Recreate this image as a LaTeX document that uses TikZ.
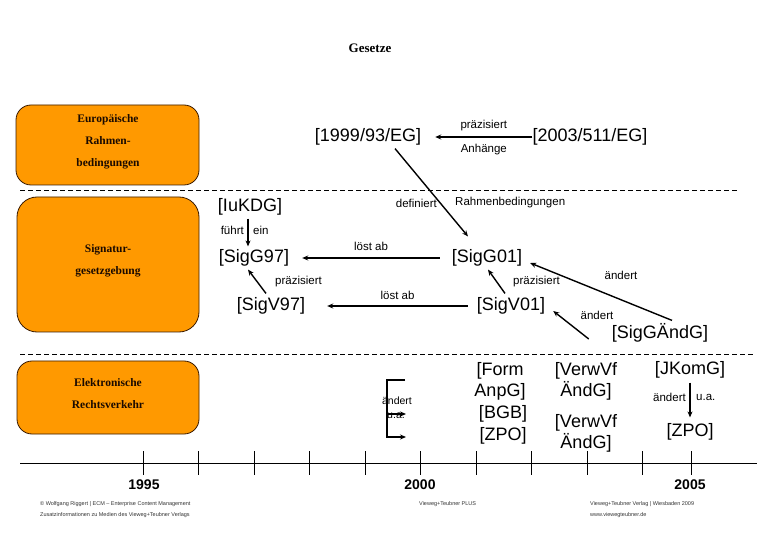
\documentclass[tikz,border=0pt]{standalone}
\usepackage{fontspec}
\setmainfont{Liberation Sans}
\newfontfamily\boxserif{Liberation Serif}
\usetikzlibrary{arrows.meta,calc}
\definecolor{boxorange}{HTML}{FF9900}
\definecolor{boxline}{HTML}{3A1A00}
\definecolor{boxtxt}{HTML}{1A0A00}
\definecolor{foottxt}{HTML}{333333}
\begin{document}
\begin{tikzpicture}[x=1pt,y=-1pt,
  big/.style={font=\fontsize{18}{21}\selectfont, inner sep=0pt, align=center},
  small/.style={font=\fontsize{11.5}{13}\selectfont, inner sep=0pt},
  tiny/.style={font=\fontsize{10.5}{12}\selectfont, inner sep=0pt},
  orangebox/.style={draw=boxline, fill=boxorange, rounded corners=15pt, line width=0.8pt, inner sep=0pt},
  boxtext/.style={font=\boxserif\bfseries\fontsize{11.5}{22}\selectfont, align=center, text=boxtxt, inner sep=0pt},
  arr/.style={-{Stealth[length=6pt,width=5pt]}, line width=1.4pt},
  sepline/.style={dash pattern=on 5pt off 3pt, line width=0.8pt},
  year/.style={font=\bfseries\fontsize{14}{16}\selectfont, inner sep=0pt},
  foot/.style={font=\fontsize{5.5}{7}\selectfont, anchor=west, inner sep=0pt, text=foottxt},
  tick/.style={line width=0.8pt}
]
\useasboundingbox (0,0) rectangle (780,540);

% title
\node[font=\boxserif\bfseries\fontsize{13}{15}\selectfont] (title) at (370,48) {Gesetze};

% left boxes
\node[orangebox, minimum width=183pt, minimum height=80pt] (boxeu) at (107.5,145) {};
\node[boxtext] (txteu) at (108,142) {Europäische\\Rahmen-\\bedingungen};
\node[orangebox, rounded corners=20pt, minimum width=182pt, minimum height=135pt] (boxsig) at (108,264.5) {};
\node[boxtext] (txtsig) at (108,261) {Signatur-\\gesetzgebung};
\node[orangebox, minimum width=182pt, minimum height=73pt] (boxel) at (108,397.5) {};
\node[boxtext] (txtel) at (108,393.5) {Elektronische\\Rechtsverkehr};

% separators
\coordinate (s1a) at (20,190); \coordinate (s1b) at (738,190);
\coordinate (s2a) at (20,354); \coordinate (s2b) at (755,354);
\draw[sepline] (s1a) -- (s1b);
\draw[sepline] (s2a) -- (s2b);

% EU directives
\node[big] (eg99) at (368,137) {[1999/93/EG]};
\node[big] (eg03) at (590,137) {[2003/511/EG]};
\draw[arr] (eg03.west) -- ([xshift=14pt]eg99.east)
  node[small, midway, above=5pt] (l1) {präzisiert}
  node[small, midway, below=6pt] (l2) {Anhänge};

% signature laws
\node[big] (iukdg) at (250,207) {[IuKDG]};
\node[big] (g97) at (254,258) {[SigG97]};
\node[big] (g01) at (487,258) {[SigG01]};
\node[big] (v97) at (271,306) {[SigV97]};
\node[big] (v01) at (511,306) {[SigV01]};
\node[big] (sga) at (660,333) {[SigGÄndG]};

\draw[arr] ([xshift=27pt,yshift=-3pt]eg99.south) -- ([xshift=-19pt,yshift=13pt]g01.north);
\node[small, anchor=east] (ldef) at (437,203) {definiert};
\node[small, anchor=west] (lrb) at (455,203) {Rahmenbedingungen};

\draw[arr] ([xshift=-2pt,yshift=-3pt]iukdg.south) -- ([xshift=-6pt,yshift=3pt]g97.north);
\node[small, anchor=east] (lfuehrt) at (244,230) {führt};
\node[small, anchor=west] (lein) at (253,230) {ein};

\draw[arr] ([xshift=-12pt]g01.west) -- ([xshift=13pt]g97.east)
  node[small, midway, above=7pt] (lab1) {löst ab};
\draw[arr] ([xshift=-9pt]v01.west) -- ([xshift=22pt]v97.east)
  node[small, midway, above=6pt] (lab2) {löst ab};

\draw[arr] ([xshift=-5pt,yshift=4pt]v97.north) -- ([xshift=-6pt,yshift=-3pt]g97.south);
\node[small, anchor=west] (lpr1) at (275,282) {präzisiert};
\draw[arr] ([xshift=-6pt,yshift=4pt]v01.north) -- ([xshift=1pt,yshift=-3pt]g01.south);
\node[small, anchor=west] (lpr2) at (513,282) {präzisiert};

\draw[arr] ([xshift=12pt,yshift=3pt]sga.north) -- ([xshift=8pt,yshift=-5pt]g01.east);
\node[small] (la1) at (621,275) {ändert};
\draw[arr] ([xshift=-23pt,yshift=-6pt]sga.west) -- ([xshift=8pt,yshift=-5pt]v01.east);
\node[small] (la2) at (597,315) {ändert};

% electronic legal transactions
\node[big] (formanpg) at (500,381) {[Form\\AnpG]};
\node[big] (bgb) at (503,414) {[BGB]};
\node[big] (zpo1) at (503,436) {[ZPO]};
\node[big] (verw1) at (586,381) {[VerwVf\\ÄndG]};
\node[big] (verw2) at (586,433) {[VerwVf\\ÄndG]};
\node[big] (jkomg) at (690,370) {[JKomG]};
\node[big] (zpo2) at (690,432) {[ZPO]};
\draw[arr] ([yshift=-4pt]jkomg.south) -- ([yshift=6pt]zpo2.north);
\node[small, anchor=east] (la3) at (686,397) {ändert};
\node[small, anchor=west] (lua1) at (696,397) {u.a.};

% bracket
\coordinate (bt) at (405,380);
\coordinate (btl) at (387,380);
\coordinate (bbl) at (387,437);
\coordinate (bb) at (406,437);
\coordinate (bml) at (387,414);
\coordinate (bm) at (406,414);
\draw[arr] (bt) -- (btl) -- (bbl) -- (bb);
\draw[arr] (bml) -- (bm);
\node[tiny] (la4) at (397,401) {ändert};
\node[tiny] (lua2) at (396,416) {u.a.};

% timeline
\coordinate (ta) at (20,463); \coordinate (tb) at (757,463);
\draw[line width=1pt] (ta) -- (tb);
\foreach \x/\n in {143/t1,198/t2,254/t3,309/t4,365/t5,420/t6,476/t7,531/t8,587/t9,642/t10,691/t11}{
  \coordinate (\n a) at (\x,451); \coordinate (\n b) at (\x,475);
  \draw[tick] (\n a) -- (\n b);
}
\node[year] (y95) at (144,485) {1995};
\node[year] (y00) at (420,485) {2000};
\node[year] (y05) at (690,485) {2005};

% footer
\node[foot] (f1) at (40,504) {© Wolfgang Riggert | ECM – Enterprise Content Management};
\node[foot] (f2) at (40,515) {Zusatzinformationen zu Medien des Vieweg+Teubner Verlags};
\node[foot] (f3) at (419,504) {Vieweg+Teubner PLUS};
\node[foot] (f4) at (590,504) {Vieweg+Teubner Verlag | Wiesbaden 2009};
\node[foot] (f5) at (590,515) {www.viewegteubner.de};
\end{tikzpicture}
\end{document}
